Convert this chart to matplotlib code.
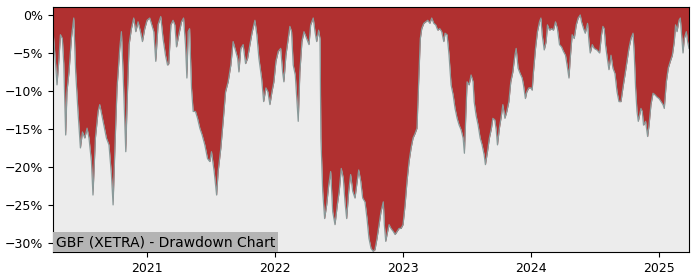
import numpy as np
import matplotlib
matplotlib.use('Agg')
import matplotlib.pyplot as plt

# drawdown values (decimal year, percent)
years = [
    2020.268, 2020.289, 2020.299, 2020.315, 2020.326, 2020.341, 2020.352, 2020.367, 2020.377, 2020.393,
    2020.412, 2020.430, 2020.445, 2020.463, 2020.482, 2020.498, 2020.516, 2020.534, 2020.549, 2020.568,
    2020.580, 2020.599, 2020.620, 2020.633, 2020.654, 2020.672, 2020.685, 2020.705, 2020.724, 2020.737,
    2020.752, 2020.768, 2020.789, 2020.802, 2020.815, 2020.836, 2020.846, 2020.862, 2020.880, 2020.898,
    2020.914, 2020.932, 2020.951, 2020.966, 2020.984, 2021.002, 2021.023, 2021.039, 2021.055, 2021.070,
    2021.088, 2021.109, 2021.127, 2021.146, 2021.162, 2021.172, 2021.188, 2021.205, 2021.219, 2021.232,
    2021.250, 2021.271, 2021.287, 2021.302, 2021.313, 2021.323, 2021.334, 2021.349, 2021.362, 2021.380,
    2021.396, 2021.414, 2021.432, 2021.453, 2021.474, 2021.492, 2021.505, 2021.526, 2021.545, 2021.557,
    2021.578, 2021.596, 2021.615, 2021.635, 2021.656, 2021.674, 2021.688, 2021.709, 2021.719, 2021.734,
    2021.752, 2021.771, 2021.787, 2021.805, 2021.823, 2021.844, 2021.859, 2021.875, 2021.896, 2021.912,
    2021.930, 2021.945, 2021.961, 2021.977, 2021.992, 2022.008, 2022.026, 2022.045, 2022.060, 2022.070,
    2022.086, 2022.104, 2022.117, 2022.130, 2022.143, 2022.159, 2022.174, 2022.182, 2022.195, 2022.211,
    2022.227, 2022.248, 2022.266, 2022.279, 2022.299, 2022.313, 2022.326, 2022.341, 2022.352, 2022.359,
    2022.373, 2022.388, 2022.404, 2022.420, 2022.435, 2022.451, 2022.469, 2022.487, 2022.502, 2022.518,
    2022.534, 2022.547, 2022.560, 2022.576, 2022.591, 2022.607, 2022.625, 2022.638, 2022.654, 2022.670,
    2022.685, 2022.703, 2022.719, 2022.734, 2022.750, 2022.766, 2022.781, 2022.797, 2022.813, 2022.828,
    2022.846, 2022.854, 2022.865, 2022.875, 2022.891, 2022.906, 2022.924, 2022.938, 2022.953, 2022.969,
    2022.984, 2023.000, 2023.016, 2023.031, 2023.047, 2023.063, 2023.078, 2023.094, 2023.109, 2023.120,
    2023.127, 2023.135, 2023.146, 2023.162, 2023.177, 2023.193, 2023.209, 2023.224, 2023.240, 2023.255,
    2023.271, 2023.287, 2023.302, 2023.318, 2023.328, 2023.344, 2023.359, 2023.375, 2023.391, 2023.406,
    2023.422, 2023.438, 2023.453, 2023.469, 2023.479, 2023.490, 2023.500, 2023.516, 2023.531, 2023.547,
    2023.555, 2023.570, 2023.586, 2023.602, 2023.617, 2023.633, 2023.643, 2023.659, 2023.674, 2023.690,
    2023.701, 2023.716, 2023.727, 2023.737, 2023.752, 2023.768, 2023.779, 2023.795, 2023.810, 2023.826,
    2023.841, 2023.857, 2023.873, 2023.883, 2023.898, 2023.914, 2023.930, 2023.940, 2023.955, 2023.966,
    2023.982, 2023.998, 2024.008, 2024.018, 2024.034, 2024.049, 2024.065, 2024.076, 2024.086, 2024.102,
    2024.117, 2024.127, 2024.143, 2024.159, 2024.174, 2024.190, 2024.205, 2024.221, 2024.237, 2024.252,
    2024.268, 2024.284, 2024.295, 2024.305, 2024.320, 2024.336, 2024.352, 2024.367, 2024.383, 2024.393,
    2024.409, 2024.422, 2024.440, 2024.451, 2024.461, 2024.477, 2024.492, 2024.513, 2024.534, 2024.549,
    2024.560, 2024.570, 2024.580, 2024.591, 2024.607, 2024.623, 2024.638, 2024.654, 2024.670, 2024.685,
    2024.701, 2024.716, 2024.732, 2024.748, 2024.763, 2024.779, 2024.795, 2024.805, 2024.815, 2024.826,
    2024.836, 2024.846, 2024.857, 2024.867, 2024.877, 2024.893, 2024.909, 2024.920, 2024.935, 2024.951,
    2024.966, 2024.982, 2024.998, 2025.013, 2025.029, 2025.039, 2025.055, 2025.070, 2025.086, 2025.102,
    2025.117, 2025.127, 2025.138, 2025.154, 2025.164, 2025.174, 2025.185, 2025.195, 2025.211, 2025.221,
    2025.232,
]
drawdown = [
    -2.0, -6.6, -9.2, -5.7, -2.6, -3.1, -6.4, -15.8, -10.1, -7.5,
    -3.0, -0.4, -7.5, -12.7, -17.5, -15.4, -16.2, -14.9, -16.2, -19.3,
    -23.7, -16.2, -12.7, -11.8, -13.6, -15.1, -16.2, -17.1, -21.0, -25.0,
    -17.1, -9.6, -4.4, -2.2, -7.5, -18.0, -11.8, -3.9, -1.8, -0.4,
    -2.2, -0.9, -2.2, -3.5, -1.8, -0.7, -0.4, -1.3, -2.2, -6.1,
    -1.3, -0.2, -3.1, -5.3, -6.6, -6.4, -1.3, -0.7, -1.3, -4.2,
    -2.6, -0.9, -0.4, -3.9, -8.3, -2.2, -1.8, -9.6, -12.7, -12.7,
    -13.6, -14.9, -15.8, -17.1, -18.9, -19.3, -18.0, -20.6, -23.7, -20.6,
    -17.5, -14.0, -10.1, -8.8, -6.6, -3.5, -4.4, -5.7, -7.5, -4.4,
    -3.9, -6.4, -5.7, -3.9, -2.2, -0.7, -2.6, -5.7, -8.3, -11.4,
    -9.6, -10.1, -11.8, -10.1, -8.8, -6.1, -4.8, -4.4, -7.5, -8.8,
    -5.3, -3.1, -1.5, -2.2, -6.6, -7.9, -11.8, -14.0, -7.5, -3.5,
    -2.2, -3.1, -3.9, -1.3, -0.4, -2.2, -3.5, -2.0, -3.1, -16.2,
    -23.2, -26.8, -25.0, -22.4, -20.6, -25.9, -27.6, -25.0, -23.2, -20.2,
    -21.5, -24.6, -26.8, -23.2, -21.0, -23.2, -24.1, -22.4, -20.4, -21.9,
    -24.1, -24.6, -26.8, -29.4, -30.7, -31.1, -30.9, -29.4, -27.6, -25.9,
    -24.6, -27.6, -29.8, -28.9, -27.6, -28.1, -28.5, -28.9, -28.5, -28.1,
    -28.1, -27.6, -25.0, -21.9, -19.3, -17.5, -16.2, -15.6, -14.9, -9.6,
    -6.6, -3.1, -1.8, -1.1, -0.9, -0.7, -1.1, -0.4, -1.1, -1.3,
    -2.0, -1.8, -2.2, -3.5, -2.4, -2.6, -5.3, -9.2, -10.5, -12.3,
    -13.6, -14.5, -15.1, -16.2, -18.2, -13.1, -8.8, -9.2, -7.9, -8.8,
    -11.4, -13.2, -14.5, -16.2, -17.1, -18.4, -19.7, -18.0, -16.2, -14.9,
    -13.6, -13.8, -15.1, -17.1, -14.9, -13.2, -11.8, -13.6, -12.7, -11.4,
    -8.8, -7.5, -5.3, -4.4, -7.0, -7.7, -8.3, -9.2, -11.0, -10.1,
    -9.6, -9.6, -9.9, -7.5, -4.4, -2.2, -0.9, -0.4, -2.6, -4.6,
    -3.5, -1.3, -2.0, -1.8, -2.0, -0.9, -1.8, -3.9, -4.2, -4.8,
    -5.3, -7.0, -8.3, -5.7, -2.6, -3.1, -1.3, -0.4, 0.0, -0.9,
    -1.8, -2.4, -1.1, -3.5, -5.0, -3.9, -4.4, -4.6, -5.0, -2.6,
    -1.5, -1.8, -3.9, -5.3, -7.2, -5.3, -7.0, -7.7, -10.1, -11.4,
    -11.4, -9.6, -7.9, -6.1, -4.4, -3.1, -2.4, -5.3, -9.6, -12.7,
    -14.0, -13.2, -12.3, -12.7, -14.5, -14.0, -16.0, -14.5, -11.8, -10.3,
    -10.5, -10.8, -11.0, -11.4, -11.8, -12.3, -8.8, -7.0, -6.1, -5.3,
    -3.5, -1.3, -2.2, -0.7, -0.4, -2.6, -5.0, -3.1, -2.2, -3.5,
    -4.4,
]
year_ticks = [2021, 2022, 2023, 2024, 2025]
pct_ticks = [0, -5, -10, -15, -20, -25, -30]
title = 'GBF (XETRA) - Drawdown Chart'

x = np.array(years)
y = np.array(drawdown)
ymin, ymax = -31.2, 1.05

fig = plt.figure(figsize=(7, 2.8), dpi=100)
ax = fig.add_axes([0.0757, 0.1, 0.9086, 0.875])
ax.set_facecolor('#ececec')
# red area from the curve up to the top of the plot
ax.fill_between(x, y, ymax + 1, color='#b03030', linewidth=0)
ax.plot(x, y, color='#8a9a9a', linewidth=0.9)

ax.set_xlim(x[0], x[-1])
ax.set_ylim(ymin, ymax)
ax.set_xticks(year_ticks)
ax.set_xticklabels([str(t) for t in year_ticks])
ax.set_yticks(pct_ticks)
ax.set_yticklabels(['%d%%' % t if t == 0 else '\u2212%d%%' % -t for t in pct_ticks])
ax.tick_params(labelsize=9)

ax.text(0.0045, 0.012, title, transform=ax.transAxes, fontsize=10,
        ha='left', va='bottom',
        bbox=dict(facecolor='#b4b4b4', edgecolor='none', pad=2.0))

plt.savefig('out.png', dpi=100)
